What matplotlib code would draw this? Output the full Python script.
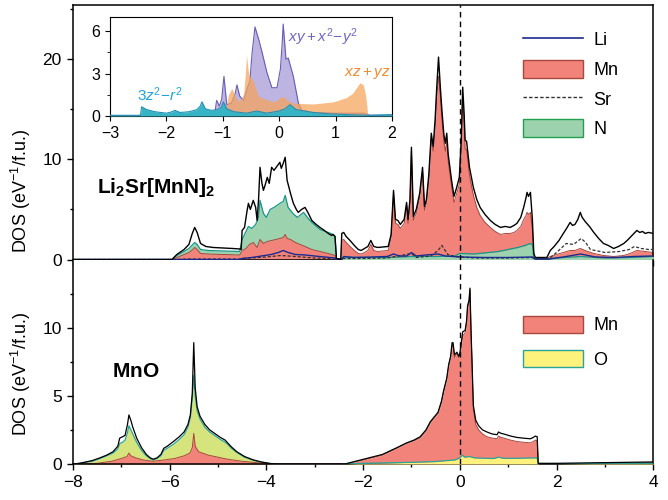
import numpy as np
import matplotlib
matplotlib.use("Agg")
import matplotlib.pyplot as plt
from matplotlib.patches import Patch
from matplotlib.lines import Line2D
from matplotlib.ticker import MultipleLocator, FixedLocator

plt.rcParams['font.family'] = ['Liberation Sans', 'DejaVu Sans']
plt.rcParams['mathtext.fontset'] = 'custom'
plt.rcParams['mathtext.rm'] = 'Liberation Sans'
plt.rcParams['mathtext.it'] = 'Liberation Sans:italic'
plt.rcParams['mathtext.bf'] = 'Liberation Sans:bold'

# ---- Li2Sr[MnN]2 (top panel), (E, DOS) pairs ----
tot_top = [(-8.0, 0), (-5.95, 0), (-5.85, 0.5), (-5.7, 1.0), (-5.6, 1.5), (-5.53, 2.6), (-5.48, 3.2), (-5.43, 2.7),
           (-5.36, 1.6), (-5.25, 1.3), (-5.1, 1.2), (-4.9, 1.15), (-4.7, 1.1), (-4.55, 1.05), (-4.52, 1.0), (-4.50, 2.9),
           (-4.45, 3.2), (-4.40, 4.8), (-4.37, 5.6), (-4.33, 5.0), (-4.27, 5.9), (-4.22, 5.2), (-4.19, 3.9), (-4.16, 6.0),
           (-4.13, 9.2), (-4.09, 7.6), (-4.06, 6.9), (-4.02, 7.5), (-3.98, 8.2), (-3.94, 7.6), (-3.89, 9.2), (-3.84, 8.9),
           (-3.78, 9.3), (-3.72, 9.7), (-3.69, 9.1), (-3.65, 9.6), (-3.61, 10.2), (-3.57, 7.9), (-3.50, 6.6), (-3.44, 5.6),
           (-3.38, 5.0), (-3.34, 4.7), (-3.27, 5.0), (-3.20, 5.2), (-3.13, 4.6), (-3.06, 3.9), (-2.97, 3.5), (-2.89, 3.2),
           (-2.80, 2.9), (-2.72, 2.6), (-2.65, 2.4), (-2.62, 2.5), (-2.58, 2.3), (-2.55, 0.1), (-2.46, 0.0), (-2.44, 2.6),
           (-2.40, 2.7), (-2.35, 2.3), (-2.27, 1.9), (-2.18, 1.4), (-2.10, 1.0), (-2.04, 0.9), (-1.97, 1.1), (-1.90, 1.3),
           (-1.84, 1.9), (-1.78, 1.3), (-1.70, 1.2), (-1.60, 1.25), (-1.48, 1.3), (-1.42, 2.5), (-1.37, 6.9), (-1.33, 4.0),
           (-1.28, 3.9), (-1.23, 3.5), (-1.15, 4.0), (-1.10, 5.7), (-1.07, 4.0), (-1.03, 6.0), (-1.00, 11.2), (-0.96, 4.3),
           (-0.90, 5.0), (-0.83, 6.6), (-0.77, 9.2), (-0.73, 5.3), (-0.69, 6.0), (-0.64, 8.5), (-0.59, 12.6), (-0.55, 11.3),
           (-0.51, 14.0), (-0.48, 16.9), (-0.44, 20.2), (-0.40, 17.0), (-0.37, 14.9), (-0.33, 12.5), (-0.30, 11.6),
           (-0.27, 12.6), (-0.24, 10.5), (-0.17, 7.9), (-0.12, 6.3), (-0.07, 7.1), (-0.01, 8.2), (0.03, 12.0), (0.06, 17.2),
           (0.09, 14.5), (0.11, 11.9), (0.14, 11.8), (0.17, 10.5), (0.20, 9.2), (0.28, 7.2), (0.35, 6.0), (0.42, 5.2),
           (0.52, 4.5), (0.63, 3.9), (0.73, 3.5), (0.84, 3.2), (0.94, 3.3), (1.04, 3.2), (1.12, 3.4), (1.18, 3.6),
           (1.26, 4.2), (1.32, 5.2), (1.37, 6.2), (1.39, 6.7), (1.42, 6.3), (1.46, 6.7), (1.50, 4.0), (1.53, 0.6),
           (1.56, 0.2), (1.80, 0.2), (1.87, 0.9), (1.95, 1.3), (2.05, 1.9), (2.14, 2.6), (2.22, 3.2), (2.28, 3.7),
           (2.33, 3.4), (2.38, 3.5), (2.44, 4.0), (2.49, 4.7), (2.53, 4.2), (2.59, 3.8), (2.68, 3.3), (2.77, 2.7),
           (2.87, 2.1), (2.97, 1.6), (3.07, 1.4), (3.18, 1.1), (3.28, 1.3), (3.39, 1.6), (3.46, 1.9), (3.52, 2.2),
           (3.60, 2.6), (3.66, 2.9), (3.72, 2.7), (3.78, 2.8), (3.83, 2.6), (3.90, 2.7), (4.0, 2.6)]

mn_top = [(-8.0, 0), (-5.95, 0), (-5.85, 0.2), (-5.7, 0.5), (-5.6, 0.7), (-5.52, 1.0), (-5.48, 1.2), (-5.43, 1.0),
          (-5.36, 0.6), (-5.2, 0.55), (-4.9, 0.5), (-4.55, 0.45), (-4.50, 0.9), (-4.42, 1.1), (-4.35, 1.5), (-4.27, 1.7),
          (-4.19, 1.2), (-4.13, 2.0), (-4.06, 1.6), (-3.98, 1.8), (-3.89, 1.9), (-3.80, 2.0), (-3.72, 2.1), (-3.65, 2.2),
          (-3.61, 2.5), (-3.57, 2.1), (-3.50, 2.0), (-3.40, 1.7), (-3.30, 1.5), (-3.20, 1.3), (-3.06, 1.0), (-2.89, 0.8),
          (-2.72, 0.6), (-2.58, 0.4), (-2.55, 0.0), (-2.46, 0.0), (-2.44, 1.9), (-2.40, 2.0), (-2.35, 1.7), (-2.27, 1.3),
          (-2.18, 0.9), (-2.10, 0.6), (-2.04, 0.55), (-1.97, 0.7), (-1.90, 0.9), (-1.84, 1.5), (-1.78, 0.9), (-1.70, 0.8),
          (-1.60, 0.85), (-1.48, 0.9), (-1.42, 2.2), (-1.37, 6.6), (-1.33, 3.6), (-1.28, 3.5), (-1.23, 3.1), (-1.15, 3.6),
          (-1.10, 5.4), (-1.07, 3.6), (-1.03, 5.7), (-1.00, 10.8), (-0.96, 3.9), (-0.90, 4.6), (-0.83, 6.2), (-0.77, 8.8),
          (-0.73, 4.9), (-0.69, 5.6), (-0.64, 8.0), (-0.59, 12.0), (-0.55, 10.8), (-0.51, 13.3), (-0.48, 16.0),
          (-0.44, 18.3), (-0.40, 16.2), (-0.37, 14.0), (-0.33, 11.8), (-0.30, 10.8), (-0.27, 11.8), (-0.24, 9.8),
          (-0.17, 7.3), (-0.12, 5.7), (-0.07, 6.5), (-0.01, 7.5), (0.03, 11.3), (0.06, 16.2), (0.09, 13.6), (0.11, 11.0),
          (0.14, 11.0), (0.17, 9.7), (0.20, 8.4), (0.28, 6.4), (0.35, 5.2), (0.42, 4.4), (0.52, 3.7), (0.63, 3.2),
          (0.73, 2.8), (0.84, 2.5), (0.94, 2.6), (1.04, 2.6), (1.12, 2.7), (1.18, 2.9), (1.26, 3.3), (1.32, 4.0),
          (1.37, 4.4), (1.39, 4.7), (1.42, 4.5), (1.46, 4.7), (1.50, 3.0), (1.53, 0.4), (1.56, 0.1), (1.80, 0.1),
          (1.87, 0.3), (2.0, 0.5), (2.14, 0.7), (2.28, 0.9), (2.38, 0.9), (2.49, 1.1), (2.59, 0.9), (2.77, 0.6),
          (2.97, 0.4), (3.18, 0.3), (3.39, 0.4), (3.52, 0.6), (3.66, 0.9), (3.83, 0.8), (4.0, 0.7)]

n_top = [(-8.0, 0), (-5.95, 0), (-5.85, 0.4), (-5.7, 0.8), (-5.6, 1.1), (-5.52, 1.5), (-5.48, 1.7), (-5.43, 1.5),
         (-5.36, 1.0), (-5.2, 0.9), (-4.9, 0.85), (-4.55, 0.8), (-4.50, 2.0), (-4.45, 2.5), (-4.37, 3.3), (-4.30, 3.1),
         (-4.22, 3.5), (-4.16, 4.2), (-4.13, 5.9), (-4.06, 4.6), (-4.00, 4.2), (-3.92, 5.0), (-3.84, 5.2), (-3.72, 5.6),
         (-3.65, 5.8), (-3.61, 6.4), (-3.55, 5.2), (-3.45, 4.6), (-3.36, 4.2), (-3.23, 4.7), (-3.15, 4.2), (-3.06, 3.7),
         (-2.89, 3.0), (-2.72, 2.7), (-2.62, 2.5), (-2.58, 2.3), (-2.55, 0), (-2.44, 0), (-2.40, 0.25), (-2.0, 0.2),
         (-1.5, 0.2), (-1.0, 0.3), (-0.5, 0.3), (-0.1, 0.35), (0.0, 0.6), (0.3, 0.55), (0.5, 0.65), (0.8, 0.8),
         (1.0, 1.0), (1.2, 1.2), (1.35, 1.4), (1.45, 1.6), (1.50, 1.5), (1.53, 0.2), (1.56, 0.05), (1.8, 0.05),
         (2.0, 0.15), (2.5, 0.3), (3.0, 0.15), (3.5, 0.2), (4.0, 0.3)]

li_top = [(-8, 0), (-4.55, 0), (-4.50, 0.1), (-4.3, 0.2), (-4.1, 0.35), (-3.9, 0.5), (-3.75, 0.7), (-3.65, 0.9),
          (-3.55, 0.7), (-3.4, 0.5), (-3.2, 0.45), (-3.0, 0.35), (-2.8, 0.25), (-2.58, 0.15), (-2.55, 0), (-2.44, 0),
          (-2.40, 0.3), (-2.2, 0.2), (-1.8, 0.25), (-1.5, 0.3), (-1.37, 0.55), (-1.25, 0.35), (-1.1, 0.35), (-1.0, 0.7),
          (-0.9, 0.35), (-0.7, 0.45), (-0.45, 0.55), (-0.3, 0.35), (0.0, 0.25), (0.5, 0.2), (1.0, 0.2), (1.5, 0.25),
          (1.55, 0.05), (1.85, 0.05), (2.2, 0.3), (2.5, 0.55), (2.8, 0.25), (3.2, 0.2), (3.6, 0.3), (4.0, 0.35)]

sr_top = [(-8, 0), (-5.9, 0), (-5.6, 0.05), (-4.55, 0.05), (-4.5, 0.1), (-4.0, 0.25), (-3.7, 0.4), (-3.4, 0.3),
          (-3.0, 0.15), (-2.55, 0.05), (-2.44, 0.1), (-2.0, 0.1), (-1.5, 0.15), (-1.0, 0.6), (-0.9, 0.2), (-0.6, 0.35),
          (-0.45, 0.9), (-0.37, 1.4), (-0.25, 0.5), (-0.1, 0.3), (0.3, 0.15), (1.0, 0.15), (1.5, 0.2), (1.56, 0.05),
          (1.85, 0.1), (2.0, 0.7), (2.2, 1.6), (2.35, 1.5), (2.51, 2.1), (2.6, 1.7), (2.7, 1.0), (3.0, 0.7), (3.3, 0.8),
          (3.5, 1.0), (3.61, 1.3), (3.75, 1.1), (3.9, 1.0), (4.0, 1.0)]

# ---- MnO (bottom panel) ----
tot_bot = [(-8.0, 0), (-7.86, 0.05), (-7.6, 0.25), (-7.44, 0.45), (-7.3, 0.65), (-7.17, 0.9), (-7.07, 1.3), (-7.03, 1.9),
           (-6.97, 2.0), (-6.92, 2.1), (-6.87, 2.9), (-6.84, 3.6), (-6.80, 3.2), (-6.76, 2.7), (-6.68, 1.9), (-6.58, 1.2),
           (-6.48, 0.7), (-6.40, 0.45), (-6.34, 0.35), (-6.26, 0.45), (-6.18, 0.7), (-6.12, 1.15), (-6.05, 1.3),
           (-5.92, 1.65), (-5.80, 2.0), (-5.70, 2.35), (-5.62, 2.9), (-5.57, 3.6), (-5.53, 5.2), (-5.50, 8.9),
           (-5.47, 5.6), (-5.43, 4.2), (-5.37, 3.5), (-5.27, 2.9), (-5.17, 2.5), (-5.05, 2.2), (-4.95, 1.95),
           (-4.85, 1.75), (-4.80, 1.55), (-4.72, 1.25), (-4.61, 0.9), (-4.45, 0.55), (-4.27, 0.3), (-4.10, 0.15),
           (-3.92, 0.04), (-3.8, 0.0), (-2.4, 0.0), (-2.34, 0.03), (-1.99, 0.35), (-1.6, 0.7), (-1.3, 1.2), (-1.10, 1.55),
           (-0.95, 1.75), (-0.82, 2.0), (-0.70, 2.5), (-0.61, 3.1), (-0.45, 3.8), (-0.38, 4.6), (-0.34, 5.3),
           (-0.27, 6.3), (-0.23, 7.3), (-0.19, 7.9), (-0.16, 8.9), (-0.14, 8.9), (-0.11, 8.0), (-0.06, 8.2),
           (-0.02, 7.9), (0.0, 8.1), (0.06, 9.7), (0.11, 9.8), (0.14, 10.5), (0.16, 11.6), (0.19, 12.0), (0.21, 12.9),
           (0.23, 10.0), (0.25, 7.8), (0.28, 4.3), (0.33, 3.2), (0.39, 2.8), (0.47, 2.5), (0.56, 2.35), (0.67, 2.2),
           (0.77, 2.15), (0.80, 2.35), (0.85, 2.25), (0.91, 2.2), (1.05, 2.05), (1.18, 1.95), (1.30, 1.9), (1.46, 1.85),
           (1.52, 1.95), (1.56, 2.05), (1.60, 2.0), (1.62, 0.05), (2.0, 0.05), (3.0, 0.1), (4.0, 0.15)]

mn_bot = [(-8.0, 0), (-7.86, 0.0), (-7.5, 0.05), (-7.2, 0.2), (-7.0, 0.4), (-6.88, 0.55), (-6.84, 0.8), (-6.80, 0.6),
          (-6.70, 0.45), (-6.55, 0.3), (-6.35, 0.2), (-6.1, 0.3), (-5.9, 0.4), (-5.7, 0.6), (-5.58, 0.8), (-5.53, 1.2),
          (-5.50, 2.25), (-5.47, 1.3), (-5.40, 0.9), (-5.2, 0.65), (-5.0, 0.5), (-4.8, 0.35), (-4.5, 0.2), (-4.2, 0.1),
          (-3.9, 0.0), (-2.4, 0.0), (-2.34, 0.03), (-1.99, 0.3), (-1.6, 0.65), (-1.30, 1.15), (-1.10, 1.5), (-0.95, 1.7),
          (-0.82, 1.9), (-0.70, 2.4), (-0.61, 3.0), (-0.45, 3.7), (-0.38, 4.5), (-0.34, 5.2), (-0.27, 6.2), (-0.23, 7.2),
          (-0.19, 7.8), (-0.16, 8.6), (-0.14, 8.75), (-0.11, 7.8), (-0.06, 8.1), (-0.02, 7.8), (0.0, 8.0), (0.06, 9.4),
          (0.11, 9.6), (0.14, 10.3), (0.16, 11.45), (0.19, 11.8), (0.21, 12.8), (0.23, 9.9), (0.25, 7.6), (0.28, 4.0),
          (0.33, 2.9), (0.39, 2.5), (0.47, 2.2), (0.56, 2.0), (0.67, 1.9), (0.77, 1.85), (0.80, 2.05), (0.85, 1.95),
          (0.91, 1.9), (1.05, 1.75), (1.18, 1.65), (1.30, 1.6), (1.46, 1.55), (1.52, 1.65), (1.56, 1.75), (1.60, 1.7),
          (1.62, 0.0), (2.0, 0.0), (3.0, 0.05), (4.0, 0.1)]

o_bot = [(-8.0, 0), (-7.86, 0.05), (-7.6, 0.2), (-7.44, 0.4), (-7.3, 0.6), (-7.17, 0.8), (-7.07, 1.1), (-7.03, 1.5),
         (-6.97, 1.6), (-6.92, 1.75), (-6.87, 2.3), (-6.84, 2.8), (-6.80, 2.5), (-6.76, 2.2), (-6.68, 1.6), (-6.58, 1.0),
         (-6.48, 0.6), (-6.40, 0.4), (-6.34, 0.3), (-6.26, 0.4), (-6.18, 0.6), (-6.12, 1.0), (-6.05, 1.15),
         (-5.92, 1.45), (-5.80, 1.8), (-5.70, 2.15), (-5.62, 2.7), (-5.57, 3.4), (-5.53, 4.8), (-5.50, 6.5),
         (-5.47, 5.0), (-5.43, 3.9), (-5.37, 3.3), (-5.27, 2.7), (-5.17, 2.35), (-5.05, 2.05), (-4.95, 1.8),
         (-4.85, 1.6), (-4.80, 1.45), (-4.72, 1.15), (-4.61, 0.85), (-4.45, 0.5), (-4.27, 0.28), (-4.10, 0.12),
         (-3.92, 0.03), (-3.8, 0.0), (-2.4, 0.0), (-2.0, 0.05), (-1.0, 0.12), (-0.5, 0.18), (-0.1, 0.3), (0.0, 0.45),
         (0.05, 0.65), (0.1, 0.5), (0.2, 0.55), (0.3, 0.45), (0.7, 0.4), (0.8, 0.5), (0.9, 0.42), (1.2, 0.42),
         (1.5, 0.45), (1.60, 0.45), (1.62, 0.0), (2.0, 0.0), (3.0, 0.05), (4.0, 0.05)]

# ---- inset: Mn d orbitals ----
d_z2 = [(-3.0, 0.05), (-2.46, 0.05), (-2.44, 0.65), (-2.35, 0.45), (-2.2, 0.3), (-2.0, 0.2), (-1.9, 0.3), (-1.85, 0.4),
        (-1.76, 0.25), (-1.6, 0.3), (-1.46, 0.45), (-1.40, 0.7), (-1.37, 1.0), (-1.31, 0.5), (-1.2, 0.4), (-1.1, 0.45),
        (-1.03, 0.6), (-0.99, 1.0), (-0.93, 0.5), (-0.8, 0.3), (-0.58, 0.2), (-0.40, 0.35), (-0.22, 0.2),
        (-0.01, 0.35), (0.1, 0.5), (0.19, 0.8), (0.3, 0.45), (0.45, 0.35), (0.6, 0.25), (0.9, 0.15), (1.19, 0.1),
        (1.6, 0.05), (2.0, 0.1)]
d_xy = [(-3.0, 0), (-1.15, 0), (-1.11, 1.1), (-1.06, 0.7), (-1.02, 1.2), (-0.98, 2.8), (-0.93, 0.8), (-0.85, 0.9),
        (-0.78, 1.6), (-0.75, 2.2), (-0.70, 1.4), (-0.63, 1.1), (-0.58, 1.8), (-0.52, 2.5), (-0.48, 4.5), (-0.43, 6.3),
        (-0.37, 5.5), (-0.31, 4.6), (-0.22, 3.1), (-0.13, 2.0), (-0.04, 2.0), (0.02, 3.3), (0.05, 5.0), (0.07, 6.5),
        (0.10, 5.0), (0.12, 4.0), (0.16, 4.1), (0.25, 2.8), (0.34, 0.9), (0.40, 0.4), (0.6, 0.25), (1.0, 0.2),
        (1.5, 0.2), (1.6, 0.05), (2.0, 0.05)]
d_xz = [(-3.0, 0), (-1.0, 0), (-0.95, 0.4), (-0.90, 1.5), (-0.84, 1.95), (-0.78, 1.4), (-0.72, 1.0), (-0.66, 1.3),
        (-0.63, 1.6), (-0.60, 3.0), (-0.58, 4.3), (-0.55, 3.2), (-0.53, 2.8), (-0.46, 2.5), (-0.40, 1.8), (-0.37, 1.4),
        (-0.25, 1.2), (-0.10, 1.0), (0.07, 1.4), (0.15, 1.1), (0.25, 0.9), (0.6, 0.85), (0.96, 1.0), (1.19, 1.3),
        (1.30, 1.6), (1.37, 2.0), (1.43, 2.35), (1.49, 2.2), (1.53, 1.5), (1.57, 0.1), (1.6, 0.0), (2.0, 0.0)]

RED, RED_EDGE = '#f2837a', '#a8473c'
GREEN, GREEN_EDGE = '#9cd3ae', '#17958a'
YEL_LO, YEL_HI, YEL_EDGE = '#d5e47c', '#fff27c', '#2aa39a'


def xy(pairs):
    a = np.array(pairs, dtype=float)
    return a[:, 0], a[:, 1]


def style_axis(ax):
    ax.tick_params(which='both', direction='out', labelsize=12.5)
    ax.tick_params(which='major', length=4.5, width=1)
    ax.tick_params(which='minor', length=2.5, width=1)
    for s in ax.spines.values():
        s.set_linewidth(1.1)


fig = plt.figure(figsize=(6.68, 5.0), dpi=100)
ax1 = fig.add_axes([0.109, 0.481, 0.869, 0.509])
ax2 = fig.add_axes([0.109, 0.072, 0.869, 0.409])

# top panel
E, y = xy(n_top)
ax1.fill_between(E, 0, y, color=GREEN, lw=0, zorder=1)
ax1.plot(E, y, color=GREEN_EDGE, lw=0.9, zorder=1.5)
E2, y2 = xy(mn_top)
ax1.fill_between(E2, 0, y2, color=RED, lw=0, zorder=2)
ax1.plot(E2, y2, color=RED_EDGE, lw=0.7, zorder=2.5)
ax1.fill_between(E, 0, y, where=E > -2.5, color=GREEN, lw=0, zorder=3)
ax1.plot(E[E > -2.5], y[E > -2.5], color=GREEN_EDGE, lw=0.9, zorder=3.2)
E, y = xy(sr_top)
ax1.plot(E, y, color='#333333', lw=0.9, ls=(0, (2.5, 1.5)), zorder=4)
E, y = xy(li_top)
ax1.plot(E, y, color='#1c2a90', lw=1.0, zorder=4)
E, y = xy(tot_top)
ax1.plot(E, y, color='black', lw=1.0, zorder=5)
ax1.axvline(0, color='black', ls=(0, (4, 3)), lw=1.0, zorder=6)

ax1.set_xlim(-8, 4)
ax1.set_ylim(0, 25.4)
ax1.yaxis.set_major_locator(MultipleLocator(10))
ax1.yaxis.set_minor_locator(MultipleLocator(5))
ax1.xaxis.set_major_locator(MultipleLocator(2))
ax1.xaxis.set_minor_locator(MultipleLocator(1))
ax1.tick_params(labelbottom=False)
style_axis(ax1)
ax1.set_ylabel('DOS (eV$^{-1}$/f.u.)', fontsize=13)
ax1.yaxis.set_label_coords(-0.069, 0.27)
ax1.text(-7.5, 7.2, r'$\mathbf{Li_2Sr[MnN]_2}$', fontsize=15, va='center', ha='left')

h_top = [Line2D([], [], color='#1c2a90', lw=1.2),
         Patch(facecolor=RED, edgecolor=RED_EDGE, lw=1),
         Line2D([], [], color='#333333', lw=1, ls=(0, (2.5, 1.5))),
         Patch(facecolor=GREEN, edgecolor='#22a050', lw=1)]
ax1.legend(h_top, ['Li', 'Mn', 'Sr', 'N'], loc='upper left', bbox_to_anchor=(0.76, 0.935),
           frameon=False, fontsize=13, handlelength=3.3, handleheight=1.1,
           labelspacing=0.6, handletextpad=0.6, borderpad=0)

# bottom panel
E, y = xy(o_bot)
ax2.fill_between(E, 0, y, where=E < -3, color=YEL_LO, lw=0, zorder=1)
ax2.plot(E[E < -3], y[E < -3], color=YEL_EDGE, lw=0.9, zorder=1.5)
E2, y2 = xy(mn_bot)
ax2.fill_between(E2, 0, y2, color=RED, lw=0, zorder=2)
ax2.plot(E2, y2, color=RED_EDGE, lw=0.7, zorder=2.5)
ax2.fill_between(E, 0, y, where=E > -3, color=YEL_HI, lw=0, zorder=3)
ax2.plot(E[E > -3], y[E > -3], color=YEL_EDGE, lw=0.9, zorder=3.2)
E, y = xy(tot_bot)
ax2.plot(E, y, color='black', lw=0.9, zorder=5)
ax2.axvline(0, color='black', ls=(0, (4, 3)), lw=1.0, zorder=6)

ax2.set_xlim(-8, 4)
ax2.set_ylim(0, 15)
ax2.yaxis.set_major_locator(FixedLocator([0, 5, 10]))
ax2.yaxis.set_minor_locator(FixedLocator([2.5, 7.5, 12.5]))
ax2.xaxis.set_major_locator(MultipleLocator(2))
ax2.xaxis.set_minor_locator(MultipleLocator(1))
style_axis(ax2)
ax2.spines['top'].set_visible(False)
ax2.set_ylabel('DOS (eV$^{-1}$/f.u.)', fontsize=13)
ax2.yaxis.set_label_coords(-0.069, 0.44)
ax2.text(-7.2, 6.75, r'$\mathbf{MnO}$', fontsize=15, va='center', ha='left')

h_bot = [Patch(facecolor=RED, edgecolor=RED_EDGE, lw=1),
         Patch(facecolor=YEL_HI, edgecolor=YEL_EDGE, lw=1)]
ax2.legend(h_bot, ['Mn', 'O'], loc='upper left', bbox_to_anchor=(0.76, 0.77),
           frameon=False, fontsize=13, handlelength=3.3, handleheight=1.1,
           labelspacing=0.85, handletextpad=0.6, borderpad=0)

# inset
axi = fig.add_axes([0.1647, 0.768, 0.4222, 0.198])
E, y = xy(d_xy)
axi.fill_between(E, 0, y, color='#bdb4e2', lw=0, zorder=1)
axi.plot(E, y, color='#6a5db5', lw=0.8, zorder=1.2)
E, y = xy(d_xz)
axi.fill_between(E, 0, y, color='#f6a258', alpha=0.72, lw=0, zorder=2)
E, y = xy(d_z2)
axi.fill_between(E, 0, y, color='#36b4c4', lw=0, zorder=3)
axi.plot(E, y, color='#1f8fb5', lw=0.8, zorder=3.2)
axi.set_xlim(-3, 2)
axi.set_ylim(0, 7)
axi.yaxis.set_major_locator(MultipleLocator(3))
axi.yaxis.set_minor_locator(MultipleLocator(1.5))
axi.xaxis.set_major_locator(MultipleLocator(1))
axi.tick_params(which='both', direction='out', labelsize=11.5)
axi.tick_params(which='major', length=3.5)
axi.tick_params(which='minor', length=2)
axi.text(-2.52, 1.5, r'$3z^2\!-\!r^2$', color='#1ea2dd', fontsize=11, ha='left', va='center')
axi.text(0.16, 5.6, r'$xy+x^2\!-\!y^2$', color='#7463c4', fontsize=11, ha='left', va='center')
axi.text(1.15, 3.0, r'$xz+yz$', color='#f08a2e', fontsize=11, ha='left', va='center')

fig.savefig('out.png', dpi=100)
